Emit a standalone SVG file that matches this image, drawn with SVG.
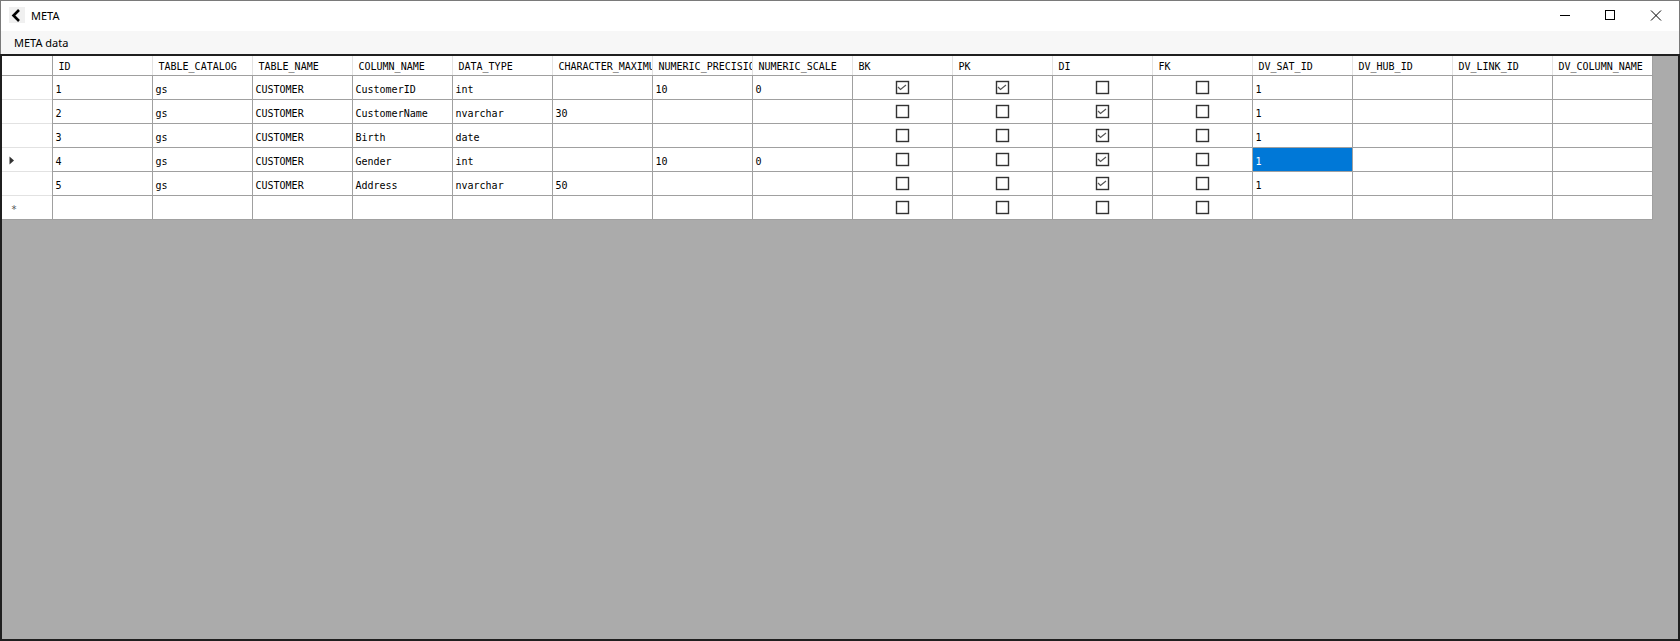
<svg xmlns="http://www.w3.org/2000/svg" width="1680" height="641" viewBox="0 0 1680 641">
<style>
.ui{font-family:"Noto Sans","Open Sans","Liberation Sans",sans-serif;font-size:11px;fill:#000}
.h{font-family:"DejaVu Sans Mono","Liberation Mono",monospace;font-size:10px;fill:#000}
.d{font-family:"DejaVu Sans Mono","Liberation Mono",monospace;font-size:10px;fill:#000}
.sel{fill:#fff}
.gl{stroke:#a0a0a0;stroke-width:1;fill:none}
.hl{stroke:#e2e2e2;stroke-width:1;fill:none}
.ctl{stroke:#000;stroke-width:1;fill:none}
</style>
<defs>
<g id="cb"><rect x="-6" y="-6" width="12" height="12" fill="#fff" stroke="#333" stroke-width="1.4"/></g>
<g id="cbc"><rect x="-6" y="-6" width="12" height="12" fill="#fff" stroke="#333" stroke-width="1.4"/><polyline points="-4.5,-0.5 -2,2 3.5,-2.5" fill="none" stroke="#555" stroke-width="1.2"/></g>
<clipPath id="c5"><rect x="553" y="56" width="99" height="19"/></clipPath>
<clipPath id="c6"><rect x="653" y="56" width="99" height="19"/></clipPath>
</defs>

<g id="window">
<rect x="0" y="0" width="1680" height="641" fill="#fff"/>
<rect x="0.5" y="0.5" width="1679" height="640" fill="none" stroke="#7a7a7a"/>
</g>

<g id="titlebar">
<rect x="9" y="7" width="16" height="16" fill="#f0f0f0"/>
<polyline points="19,10 13.5,15.5 19,21" fill="none" stroke="#000" stroke-width="2.6"/>
<text class="ui" x="31" y="19.5">META</text>
<line class="ctl" x1="1560" y1="15.5" x2="1570" y2="15.5"/>
<rect class="ctl" x="1605.5" y="10.5" width="9" height="9"/>
<line class="ctl" x1="1651" y1="10.5" x2="1661" y2="20.5"/>
<line class="ctl" x1="1661" y1="10.5" x2="1651" y2="20.5"/>
</g>

<g id="menubar">
<rect x="1" y="31" width="1678" height="24" fill="#f7f7f7"/>
<text class="ui" x="14" y="46.5">META data</text>
</g>

<g id="grid">
<rect x="1" y="55" width="1678" height="585" fill="#ababab" stroke="#1f1f1f" stroke-width="2"/>
<rect x="2" y="56" width="1651" height="164" fill="#fff"/>
<rect x="1253" y="148" width="99" height="23" fill="#0078d7"/>
</g>

<g id="connectors">
<path class="hl" d="M52.5 56V75M152.5 56V75M252.5 56V75M352.5 56V75M452.5 56V75M552.5 56V75M652.5 56V75M752.5 56V75M852.5 56V75M952.5 56V75M1052.5 56V75M1152.5 56V75M1252.5 56V75M1352.5 56V75M1452.5 56V75M1552.5 56V75"/>
<path class="hl" d="M2 99.5H52M2 123.5H52M2 147.5H52M2 171.5H52M2 195.5H52"/>
<path class="gl" d="M2 75.5H1653M52 99.5H1653M52 123.5H1653M52 147.5H1653M52 171.5H1653M52 195.5H1653M2 219.5H1653"/>
<path class="gl" d="M52.5 56V220M152.5 75V220M252.5 75V220M352.5 75V220M452.5 75V220M552.5 75V220M652.5 75V220M752.5 75V220M852.5 75V220M952.5 75V220M1052.5 75V220M1152.5 75V220M1252.5 75V220M1352.5 75V220M1452.5 75V220M1552.5 75V220M1652.5 56V220"/>
</g>

<g id="header">
<text class="h" x="58.5" y="70">ID</text>
<text class="h" x="158.5" y="70">TABLE_CATALOG</text>
<text class="h" x="258.5" y="70">TABLE_NAME</text>
<text class="h" x="358.5" y="70">COLUMN_NAME</text>
<text class="h" x="458.5" y="70">DATA_TYPE</text>
<text class="h" x="558.5" y="70" clip-path="url(#c5)">CHARACTER_MAXIMU</text>
<text class="h" x="658.5" y="70" clip-path="url(#c6)">NUMERIC_PRECISIO</text>
<text class="h" x="758.5" y="70">NUMERIC_SCALE</text>
<text class="h" x="858.5" y="70">BK</text>
<text class="h" x="958.5" y="70">PK</text>
<text class="h" x="1058.5" y="70">DI</text>
<text class="h" x="1158.5" y="70">FK</text>
<text class="h" x="1258.5" y="70">DV_SAT_ID</text>
<text class="h" x="1358.5" y="70">DV_HUB_ID</text>
<text class="h" x="1458.5" y="70">DV_LINK_ID</text>
<text class="h" x="1558.5" y="70">DV_COLUMN_NAME</text>
</g>

<g id="rowheaders">
<polygon points="9.5,156.5 14,160.5 9.5,164.5" fill="#333"/>
<text class="d" x="14" y="213" text-anchor="middle" style="fill:#555">*</text>
</g>

<g id="row1">
<text class="d" x="55.5" y="92.5">1</text>
<text class="d" x="155.5" y="92.5">gs</text>
<text class="d" x="255.5" y="92.5">CUSTOMER</text>
<text class="d" x="355.5" y="92.5">CustomerID</text>
<text class="d" x="455.5" y="92.5">int</text>
<text class="d" x="655.5" y="92.5">10</text>
<text class="d" x="755.5" y="92.5">0</text>
<use href="#cbc" x="902.5" y="87.5"/>
<use href="#cbc" x="1002.5" y="87.5"/>
<use href="#cb" x="1102.5" y="87.5"/>
<use href="#cb" x="1202.5" y="87.5"/>
<text class="d" x="1255.5" y="92.5">1</text>
</g>

<g id="row2">
<text class="d" x="55.5" y="116.5">2</text>
<text class="d" x="155.5" y="116.5">gs</text>
<text class="d" x="255.5" y="116.5">CUSTOMER</text>
<text class="d" x="355.5" y="116.5">CustomerName</text>
<text class="d" x="455.5" y="116.5">nvarchar</text>
<text class="d" x="555.5" y="116.5">30</text>
<use href="#cb" x="902.5" y="111.5"/>
<use href="#cb" x="1002.5" y="111.5"/>
<use href="#cbc" x="1102.5" y="111.5"/>
<use href="#cb" x="1202.5" y="111.5"/>
<text class="d" x="1255.5" y="116.5">1</text>
</g>

<g id="row3">
<text class="d" x="55.5" y="140.5">3</text>
<text class="d" x="155.5" y="140.5">gs</text>
<text class="d" x="255.5" y="140.5">CUSTOMER</text>
<text class="d" x="355.5" y="140.5">Birth</text>
<text class="d" x="455.5" y="140.5">date</text>
<use href="#cb" x="902.5" y="135.5"/>
<use href="#cb" x="1002.5" y="135.5"/>
<use href="#cbc" x="1102.5" y="135.5"/>
<use href="#cb" x="1202.5" y="135.5"/>
<text class="d" x="1255.5" y="140.5">1</text>
</g>

<g id="row4">
<text class="d" x="55.5" y="164.5">4</text>
<text class="d" x="155.5" y="164.5">gs</text>
<text class="d" x="255.5" y="164.5">CUSTOMER</text>
<text class="d" x="355.5" y="164.5">Gender</text>
<text class="d" x="455.5" y="164.5">int</text>
<text class="d" x="655.5" y="164.5">10</text>
<text class="d" x="755.5" y="164.5">0</text>
<use href="#cb" x="902.5" y="159.5"/>
<use href="#cb" x="1002.5" y="159.5"/>
<use href="#cbc" x="1102.5" y="159.5"/>
<use href="#cb" x="1202.5" y="159.5"/>
<text class="d sel" x="1255.5" y="164.5">1</text>
</g>

<g id="row5">
<text class="d" x="55.5" y="188.5">5</text>
<text class="d" x="155.5" y="188.5">gs</text>
<text class="d" x="255.5" y="188.5">CUSTOMER</text>
<text class="d" x="355.5" y="188.5">Address</text>
<text class="d" x="455.5" y="188.5">nvarchar</text>
<text class="d" x="555.5" y="188.5">50</text>
<use href="#cb" x="902.5" y="183.5"/>
<use href="#cb" x="1002.5" y="183.5"/>
<use href="#cbc" x="1102.5" y="183.5"/>
<use href="#cb" x="1202.5" y="183.5"/>
<text class="d" x="1255.5" y="188.5">1</text>
</g>

<g id="newrow">
<use href="#cb" x="902.5" y="207.5"/>
<use href="#cb" x="1002.5" y="207.5"/>
<use href="#cb" x="1102.5" y="207.5"/>
<use href="#cb" x="1202.5" y="207.5"/>
</g>
</svg>
